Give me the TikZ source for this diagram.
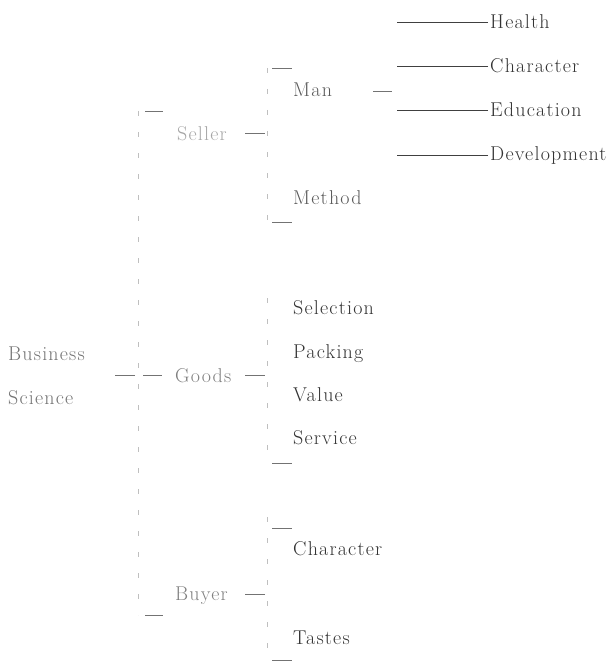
\documentclass[tikz,border=0pt]{standalone}
\usepackage{fontspec}
\setmainfont{Latin Modern Roman}[LetterSpace=6]
\usetikzlibrary{positioning}
\tikzset{item/.style={anchor=base west, inner sep=0pt, font=\fontsize{20}{24}\selectfont, text=#1},
item/.default={black!80},
%short strokes of the braces
hook/.style={draw=black!55, line width=0.6pt},
%the faded upright of a brace
spine/.style={draw=black!25, line width=0.5pt, dash pattern=on 5pt off 16pt},
twig/.style={draw=black!75, line width=0.6pt}}

\begin{document}
\begin{tikzpicture}[x=1pt,y=-1pt]
\useasboundingbox (0,0) rectangle (608,666);

\node[item=black!55] (business) at (8,360) {Business};
\node[item=black!55] (science) at (8,404) {Science};

\node[item=black!35] (seller) at (177,140) {Seller};
\node[item=black!50] (goods) at (175,382) {Goods};
\node[item=black!50] (buyer) at (175,600) {Buyer};

\node[item=black!65] (man) at (293,97) {Man};
\node[item=black!65] (method) at (293,204) {Method};

\node[item] (health) at (490,29) {Health};
\node[item] (character) at (490,73) {Character};
\node[item] (education) at (490,117) {Education};
\node[item] (development) at (490,160) {Development};

\node[item] (selection) at (293,314) {Selection};
\node[item] (packing) at (293,358) {Packing};
\node[item] (value) at (293,401) {Value};
\node[item] (service) at (293,444) {Service};

\node[item] (buyer-char) at (293,555) {Character};
\node[item] (tastes) at (293,644) {Tastes};

% outer brace
\coordinate (ob-top) at (138,111);
\coordinate (ob-mid) at (138,375);
\coordinate (ob-bot) at (138,615);
\draw[spine] (ob-top) -- (ob-bot);
\draw[hook] ([xshift=7pt]ob-top) -- ++(18,0);
\draw[hook] ([xshift=7pt]ob-bot) -- ++(18,0);
\draw[hook] ([xshift=-3pt]ob-mid) -- ++(-20,0);
\draw[hook] ([xshift=5pt]ob-mid) -- ++(19,0);

% seller
\coordinate (sl-top) at (267,68);
\coordinate (sl-bot) at (267,222);
\draw[spine] (sl-top) -- (sl-bot);
\draw[hook] ([xshift=5pt]sl-top) -- ++(20,0);
\draw[hook] ([xshift=5pt]sl-bot) -- ++(20,0);
\draw[hook] (245,133) -- (265,133);

% man
\draw[hook] (373,91) -- (392,91);
\foreach \n in {health,character,education,development}
  \draw[twig] ([xshift=-2pt]\n.west) -- ++(-91,0);

% goods
\coordinate (gd-top) at (267,298);
\coordinate (gd-bot) at (267,463);
\draw[spine] (gd-top) -- (gd-bot);
\draw[hook] ([xshift=5pt]gd-bot) -- ++(20,0);
\draw[hook] (245,375) -- (265,375);

% buyer
\coordinate (by-top) at (267,517);
\coordinate (by-mid) at (267,594);
\coordinate (by-bot) at (267,660);
\draw[spine] (by-top) -- (by-bot);
\draw[hook] ([xshift=5pt]by-top) ++(0,11) -- ++(20,0);
\draw[hook] ([xshift=5pt]by-bot) -- ++(20,0);
\draw[hook] ([xshift=-2pt]by-mid) -- ++(-20,0);
\end{tikzpicture}
\end{document}
